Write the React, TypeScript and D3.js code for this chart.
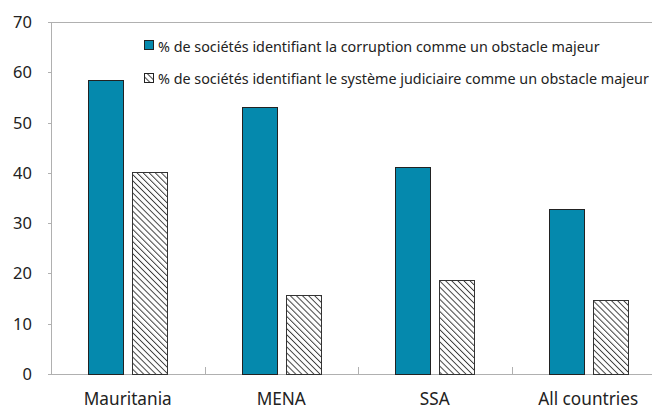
import React from "react";
import * as d3 from "d3";

const categories = ["Mauritania", "MENA", "SSA", "All countries"];
const corruption = [58.5, 53.1, 41.2, 32.9];
const judiciary = [40.1, 15.8, 18.7, 14.8];
const yTicks = [0, 10, 20, 30, 40, 50, 60, 70];
const seriesLabels = [
  "% de sociétés identifiant la corruption comme un obstacle majeur",
  "% de sociétés identifiant le système judiciaire comme un obstacle majeur",
];

const W = 652;
const H = 411;
const FONT = "'Noto Sans', sans-serif";
const BLUE = "#0589ad";

export default function App() {
  const left = 51;
  const right = 665;
  const top = 22;
  const bottom = 374;
  const x = d3.scaleBand<string>().domain(categories).range([left, right]).paddingInner(0).paddingOuter(0);
  const y = d3.scaleLinear().domain([0, 70]).range([bottom, top]);
  const bw = 35;
  const gap = 9;
  const groupW = bw * 2 + gap;

  return (
    <svg width={W} height={H} style={{ position: "absolute", left: 0, top: 0, background: "#fff" }}>
      <defs>
        <pattern id="hatch" patternUnits="userSpaceOnUse" width="4.3" height="4.3" patternTransform="rotate(-45)">
          <rect width="4.3" height="4.3" fill="#fff" />
          <line x1="0" y1="0" x2="0" y2="4.3" stroke="#3a3a3a" strokeWidth="1.9" />
        </pattern>
      </defs>
      {/* plot frame */}
      <line x1={left} x2={right} y1={top + 0.5} y2={top + 0.5} stroke="#b0b0b0" />
      <line x1={left + 0.5} x2={left + 0.5} y1={top} y2={bottom} stroke="#b0b0b0" />
      <line x1={left} x2={right} y1={bottom + 0.5} y2={bottom + 0.5} stroke="#b0b0b0" />
      {yTicks.map((t) => (
        <g key={t}>
          <line x1={left - 3} x2={left} y1={Math.round(y(t)) + 0.5} y2={Math.round(y(t)) + 0.5} stroke="#b0b0b0" />
          <text x={32} y={y(t) + 6} textAnchor="end" fontFamily={FONT} fontSize={16.5} fill="#222">
            {t}
          </text>
        </g>
      ))}
      {categories.slice(1).map((c) => (
        <line key={c} x1={Math.round(x(c)!) + 0.5} x2={Math.round(x(c)!) + 0.5} y1={bottom - 7} y2={bottom} stroke="#b0b0b0" />
      ))}
      {categories.map((c, i) => {
        const cx = x(c)! + x.bandwidth() / 2;
        const x0 = cx - groupW / 2;
        return (
          <g key={c}>
            <rect x={Math.round(x0) + 0.5} y={Math.round(y(corruption[i])) + 0.5} width={bw} height={Math.round(bottom - y(corruption[i]))} fill={BLUE} stroke="#222" strokeWidth={1} />
            <rect x={Math.round(x0 + bw + gap) + 0.5} y={Math.round(y(judiciary[i])) + 0.5} width={bw} height={Math.round(bottom - y(judiciary[i]))} fill="url(#hatch)" stroke="#333" strokeWidth={1} />
            <text x={cx} y={405} textAnchor="middle" fontFamily={FONT} fontSize={17.2} fill="#222">
              {c}
            </text>
          </g>
        );
      })}
      {/* legend */}
      <rect x={144.5} y={40.5} width={9} height={9} fill={BLUE} stroke="#222" />
      <rect x={144.5} y={73.5} width={9} height={9} fill="url(#hatch)" stroke="#222" />
      <text x={158} y={51.5} fontFamily={FONT} fontSize={14.35} fill="#222">{seriesLabels[0]}</text>
      <text x={158} y={84} fontFamily={FONT} fontSize={14.35} fill="#222">{seriesLabels[1]}</text>
    </svg>
  );
}
